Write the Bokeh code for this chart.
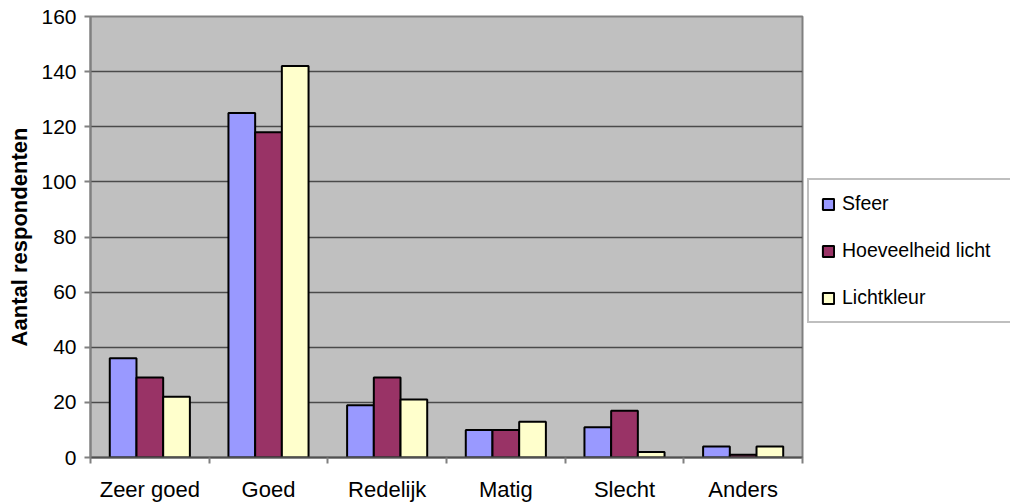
from bokeh.plotting import figure
from bokeh.models import ColumnDataSource, FixedTicker, Legend, LegendItem, Range1d
from bokeh.embed import file_html
from bokeh.resources import INLINE

categories = ["Zeer goed", "Goed", "Redelijk", "Matig", "Slecht", "Anders"]
sfeer = [36, 125, 19, 10, 11, 4]
hoeveelheid = [29, 118, 29, 10, 17, 1]
lichtkleur = [22, 142, 21, 13, 2, 4]
series_names = ["Sfeer", "Hoeveelheid licht", "Lichtkleur"]
series_colors = ["#9999FF", "#993366", "#FFFFCC"]
y_ticks = [0, 20, 40, 60, 80, 100, 120, 140, 160]

FONT = "Liberation Sans"

p = figure(width=1010, height=502, frame_width=712, frame_height=441,
           output_backend="svg", toolbar_location=None,
           x_range=Range1d(0, len(categories)), y_range=Range1d(0, 160),
           min_border_left=90, min_border_right=0, min_border_top=16, min_border_bottom=45)
p.background_fill_color = "#C0C0C0"
p.border_fill_color = "white"
p.outline_line_color = "#808080"
p.outline_line_width = 2

centers = [i + 0.5 for i in range(len(categories))]
bw = 0.225
renderers = []
for k, (vals, col) in enumerate(zip([sfeer, hoeveelheid, lichtkleur], series_colors)):
    xs = [c + (k - 1) * bw for c in centers]
    src = ColumnDataSource(dict(x=xs, top=vals))
    r = p.vbar(x="x", top="top", bottom=0, width=bw, source=src,
               fill_color=col, line_color="black", line_width=2)
    renderers.append(r)

# y axis
p.yaxis.ticker = FixedTicker(ticks=y_ticks)
p.yaxis.major_label_text_font = FONT
p.yaxis.major_label_text_font_size = "21px"
p.yaxis.major_label_text_color = "black"
p.yaxis.major_tick_out = 6
p.yaxis.major_tick_in = 0
p.yaxis.minor_tick_out = 0
p.yaxis.minor_tick_in = 0
p.yaxis.major_label_standoff = 8
p.yaxis.axis_line_color = "#808080"
p.yaxis.axis_line_width = 2
p.yaxis.major_tick_line_color = "#808080"
p.yaxis.major_tick_line_width = 2
p.yaxis.axis_label = "Aantal respondenten"
p.yaxis.axis_label_text_font = FONT
p.yaxis.axis_label_text_font_style = "bold"
p.yaxis.axis_label_text_font_size = "22px"
p.yaxis.axis_label_text_color = "black"
p.yaxis.axis_label_standoff = 6

# x axis
p.xaxis.ticker = FixedTicker(ticks=centers, minor_ticks=list(range(len(categories) + 1)))
p.xaxis.major_label_overrides = {c: name for c, name in zip(centers, categories)}
p.xaxis.major_label_text_font = FONT
p.xaxis.major_label_text_font_size = "22px"
p.xaxis.major_label_text_color = "black"
p.xaxis.major_tick_out = 0
p.xaxis.major_tick_in = 0
p.xaxis.minor_tick_out = 6
p.xaxis.minor_tick_in = 0
p.xaxis.minor_tick_line_color = "#808080"
p.xaxis.minor_tick_line_width = 2
p.xaxis.major_label_standoff = 13
p.xaxis.axis_line_color = "#505050"
p.xaxis.axis_line_width = 2

p.xgrid.grid_line_color = None
p.ygrid.ticker = FixedTicker(ticks=y_ticks)
p.ygrid.grid_line_color = "#4A4A4A"
p.ygrid.grid_line_width = 1.5

legend = Legend(items=[LegendItem(label=n, renderers=[r]) for n, r in zip(series_names, renderers)],
                location=(5, 134), orientation="vertical")
legend.label_text_font = FONT
legend.label_text_font_size = "19.5px"
legend.label_text_color = "black"
legend.glyph_width = 14
legend.glyph_height = 14
legend.label_height = 18
legend.label_width = 160
legend.label_standoff = 7
legend.spacing = 24
legend.padding = 12
legend.margin = 0
legend.border_line_color = "#808080"
legend.border_line_width = 2
legend.background_fill_color = "white"
legend.background_fill_alpha = 1
p.add_layout(legend, "right")

open("out.html", "w").write(file_html(p, INLINE))
